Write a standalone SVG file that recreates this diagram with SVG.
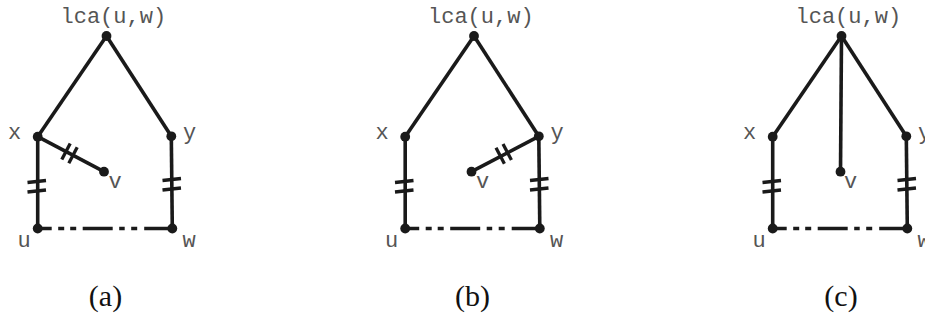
<svg xmlns="http://www.w3.org/2000/svg" width="925" height="320" viewBox="0 0 925 320">
<defs>
<style>
.e{stroke:#1a1a1a;stroke-width:3.6;fill:none;stroke-linecap:butt}
.h{stroke:#1a1a1a;stroke-width:3.3;fill:none}
.d{stroke:#1a1a1a;stroke-width:3.6;fill:none;stroke-dasharray:14 6.5 6 6 6 6.5 30 6.5 5.5 6.5 6 7 1000}
.n{fill:#1a1a1a}
.t{font-family:"Liberation Mono","Courier New",monospace;font-size:22px;fill:#555}
.c{font-family:"Liberation Serif","Times New Roman",serif;font-size:30px;fill:#111;text-anchor:middle}
</style>
<g id="base-edges">
<line class="e" x1="106.5" y1="36" x2="37.7" y2="136.7"/>
<line class="e" x1="106.5" y1="36" x2="171.3" y2="136.3"/>
<line class="e" x1="37.7" y1="136.7" x2="37.7" y2="228.5"/>
<line class="e" x1="171.3" y1="136.3" x2="172.3" y2="228.5"/>
<line class="d" x1="37.7" y1="228.5" x2="172.3" y2="228.5"/>
<line class="h" x1="27.5" y1="182.5" x2="46" y2="180.5"/>
<line class="h" x1="27.5" y1="192" x2="46" y2="190"/>
<line class="h" x1="162.5" y1="180.5" x2="181" y2="178.5"/>
<line class="h" x1="162.5" y1="190" x2="181" y2="188"/>
</g>
<g id="base-nodes">
<circle class="n" cx="106.5" cy="36" r="4.9"/>
<circle class="n" cx="37.7" cy="136.7" r="4.9"/>
<circle class="n" cx="171.3" cy="136.3" r="4.9"/>
<circle class="n" cx="37.7" cy="228.5" r="4.9"/>
<circle class="n" cx="172.3" cy="228.5" r="4.9"/>
</g>
<g id="base-labels">
<text class="t" x="113.3" y="22.5" text-anchor="middle">lca(u,w)</text>
<text class="t" x="14.7" y="138.5" text-anchor="middle">x</text>
<text class="t" x="189.5" y="138.5" text-anchor="middle">y</text>
<text class="t" x="24" y="247.3" text-anchor="middle">u</text>
<text class="t" x="189" y="247.3" text-anchor="middle">w</text>
</g>
</defs>

<g id="connectors">
<g id="edges-a">
<use href="#base-edges"/>
<line class="e" x1="37.7" y1="136.7" x2="104" y2="171.7"/>
<line class="h" x1="61.8" y1="159.6" x2="70.2" y2="143.6"/>
<line class="h" x1="68.8" y1="163.3" x2="77.2" y2="147.3"/>
</g>
<g id="edges-b" transform="translate(367.5,0)">
<use href="#base-edges"/>
<line class="e" x1="104" y1="171.7" x2="171.3" y2="136.3"/>
<line class="h" x1="128.5" y1="147.8" x2="136.9" y2="163.8"/>
<line class="h" x1="135.5" y1="144" x2="143.9" y2="160"/>
</g>
<g id="edges-c" transform="translate(735,0)">
<use href="#base-edges"/>
<line class="e" x1="106.5" y1="36" x2="105.5" y2="171.7"/>
</g>
</g>

<g id="panel-a">
<g id="a-nodes"><use href="#base-nodes"/><circle class="n" cx="104" cy="171.7" r="4.9"/></g>
<use href="#base-labels"/>
<text class="t" x="115" y="188" text-anchor="middle">v</text>
<text class="c" x="105.5" y="306">(a)</text>
</g>
<g id="panel-b" transform="translate(367.5,0)">
<g id="b-nodes"><use href="#base-nodes"/><circle class="n" cx="104" cy="171.7" r="4.9"/></g>
<use href="#base-labels"/>
<text class="t" x="115" y="188" text-anchor="middle">v</text>
<text class="c" x="105" y="306">(b)</text>
</g>
<g id="panel-c" transform="translate(735,0)">
<g id="c-nodes"><use href="#base-nodes"/><circle class="n" cx="105.5" cy="171.7" r="4.9"/></g>
<use href="#base-labels"/>
<text class="t" x="115.5" y="188" text-anchor="middle">v</text>
<text class="c" x="106" y="306">(c)</text>
</g>
</svg>
